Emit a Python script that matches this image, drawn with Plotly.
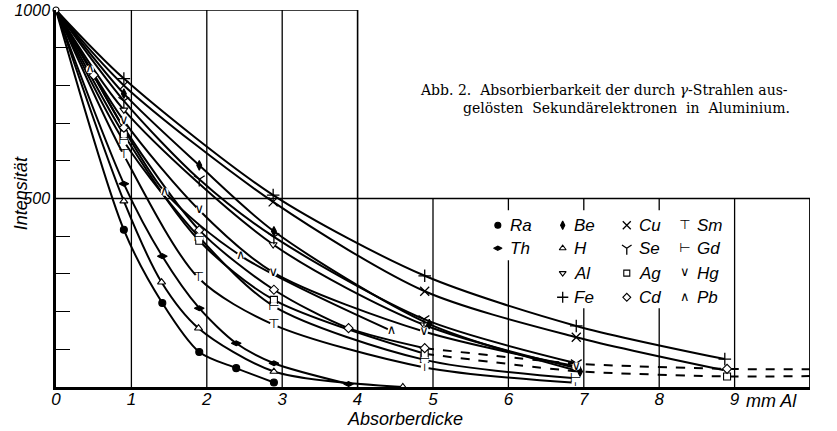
import plotly.graph_objects as go

# ---------------- data ----------------
ra_x = [0, 0.90, 1.41, 1.90, 2.39, 2.89]
ra_y = [1000, 417, 223, 93, 50, 12]
th_x = [0, 0.90, 1.41, 1.90, 2.39, 2.89, 3.88]
th_y = [1000, 539, 347, 209, 116, 63, 8]
h_x = [0, 0.90, 1.40, 1.89, 2.89, 4.60]
h_y = [1000, 493, 278, 156, 41, 0]
be_x = [0, 0.90, 1.90, 2.89, 4.95, 6.95]
be_y = [1000, 778, 588, 413, 167, 41]
al_x = [0, 0.90, 2.88, 4.88, 6.90]
al_y = [1000, 735, 378, 165, 50]
fe_x = [0, 0.90, 2.88, 4.89, 6.90, 8.87]
fe_y = [1000, 818, 509, 295, 162, 74]
cu_x = [0, 0.90, 2.88, 4.89, 6.90, 8.85]
cu_y = [1000, 800, 491, 254, 132, 45]
se_x = [0, 0.90, 1.90, 2.89, 4.88, 6.90]
se_y = [1000, 759, 551, 398, 180, 63]
ag_x = [0, 0.90, 1.90, 2.89, 4.89]
ag_y = [1000, 670, 388, 231, 88]
ag_tail_x = [4.89, 6.90, 8.90, 10.0]
ag_tail_y = [88, 42, 28, 29]
cd_x = [0, 0.50, 0.90, 1.90, 2.89, 3.88, 4.89]
cd_y = [1000, 827, 688, 416, 258, 156, 103]
cd_tail_x = [4.89, 6.90, 8.90, 10.0]
cd_tail_y = [103, 62, 48, 47]
sm_x = [0, 0.90, 1.89, 2.89, 4.89, 6.89]
sm_y = [1000, 615, 289, 165, 52, 11]
gd_x = [0, 0.90, 1.90, 2.89, 4.89, 6.89]
gd_y = [1000, 652, 397, 214, 72, 23]
hg_x = [0, 0.90, 1.90, 2.88, 4.88, 6.90]
hg_y = [1000, 706, 469, 304, 147, 55]
pb_x = [0, 0.45, 1.44, 2.45, 4.45]
pb_y = [1000, 843, 518, 348, 149]

x_ticks = [0, 1, 2, 3, 4, 5, 6, 7, 8, 9]
y_ticks = [100, 200, 300, 400, 500, 600, 700, 800, 900, 1000]
y_ticktext = ["", "", "", "", "500", "", "", "", "", "1000"]

# ---------------- styling ----------------
INK = "#000000"
SANS = "Liberation Sans Narrow, Liberation Sans, sans-serif"
LAB_FONT = dict(family=SANS, size=17, color=INK, style="italic")
GLYPH_FONT = dict(family="DejaVu Sans", size=13, color=INK)
CAP_FONT = dict(family="DejaVu Serif", size=14, color=INK)

# name, x, y, kind, symbol/glyph, fill, open_end, tail, legend(col,row)
series = [
    ("Ra", ra_x, ra_y, "m", "circle", INK, False, None, (0, 0)),
    ("Th", th_x, th_y, "m", "diamond-wide", INK, False, None, (0, 1)),
    ("Be", be_x, be_y, "m", "diamond-tall", INK, False, None, (1, 0)),
    ("H", h_x, h_y, "m", "triangle-up", "white", False, None, (1, 1)),
    ("Al", al_x, al_y, "m", "triangle-down", "white", False, None, (1, 2)),
    ("Fe", fe_x, fe_y, "m", "cross-thin", INK, False, None, (1, 3)),
    ("Cu", cu_x, cu_y, "m", "x-thin", INK, True, None, (2, 0)),
    ("Se", se_x, se_y, "m", "y-down", INK, False, None, (2, 1)),
    ("Ag", ag_x, ag_y, "m", "square", "white", False, (ag_tail_x, ag_tail_y), (2, 2)),
    ("Cd", cd_x, cd_y, "m", "diamond", "white", False, (cd_tail_x, cd_tail_y), (2, 3)),
    ("Sm", sm_x, sm_y, "t", "\u22a4", None, False, None, (3, 0)),
    ("Gd", gd_x, gd_y, "t", "\u22a2", None, False, None, (3, 1)),
    ("Hg", hg_x, hg_y, "t", "\u2228", None, False, None, (3, 2)),
    ("Pb", pb_x, pb_y, "t", "\u2227", None, False, None, (3, 3)),
]

# legend layout (data coordinates of the legend block)
leg_mark_x = [5.86, 6.72, 7.57, 8.34]
leg_text_dx = 0.13
leg_row_y = [429, 368, 302, 238]

fig = go.Figure()


def add_marks(xs, ys, kind, sym, fill, size=7):
    if kind == "m":
        line_sym = sym.endswith("-thin") or sym.startswith("y-")
        fig.add_trace(go.Scatter(
            x=xs, y=ys, mode="markers", showlegend=False, hoverinfo="skip",
            cliponaxis=False,
            marker=dict(symbol=sym, size=size + (2 if line_sym else 0),
                        color=fill,
                        line=dict(color=INK, width=1.3 if line_sym else 1.1)),
        ))
    else:
        fig.add_trace(go.Scatter(
            x=xs, y=ys, mode="markers+text", showlegend=False, hoverinfo="skip",
            cliponaxis=False,
            text=[sym] * len(xs), textposition="middle center",
            textfont=GLYPH_FONT,
            marker=dict(symbol="circle", size=8, color="white",
                        line=dict(width=0)),
        ))


for name, xs, ys, kind, sym, fill, open_end, tail, _ in series:
    fig.add_trace(go.Scatter(
        x=xs, y=ys, mode="lines", showlegend=False, hoverinfo="skip",
        line=dict(color=INK, width=2, shape="spline", smoothing=0.8),
    ))
    if tail is not None:
        fig.add_trace(go.Scatter(
            x=tail[0], y=tail[1], mode="lines", showlegend=False,
            hoverinfo="skip", cliponaxis=False,
            line=dict(color=INK, width=2, dash="dash", shape="spline",
                      smoothing=0.6),
        ))

for name, xs, ys, kind, sym, fill, open_end, tail, _ in series:
    mx = xs[1:-1] if open_end else xs[1:]
    my = ys[1:-1] if open_end else ys[1:]
    if tail is not None:
        mx = list(mx) + [tail[0][2]]
        my = list(my) + [tail[1][2]]
    add_marks(mx, my, kind, sym, fill)

# origin hub
fig.add_trace(go.Scatter(x=[0], y=[1000], mode="markers", showlegend=False,
                         cliponaxis=False, hoverinfo="skip",
                         marker=dict(symbol="circle", size=6, color="white",
                                     line=dict(color=INK, width=1.2))))

# legend (manual, four columns)
annotations = []
for name, xs, ys, kind, sym, fill, open_end, tail, (c, r) in series:
    add_marks([leg_mark_x[c]], [leg_row_y[r]], kind, sym, fill, size=6)
    annotations.append(dict(x=leg_mark_x[c] + leg_text_dx, y=leg_row_y[r],
                            xref="x", yref="y", text=name, showarrow=False,
                            xanchor="left", yanchor="middle", font=LAB_FONT))

# frame / grid shapes
shapes = []
GW = 1.3
for xv in [1, 2, 3]:
    shapes.append(dict(type="line", x0=xv, x1=xv, y0=0, y1=1000,
                       line=dict(color=INK, width=GW), layer="below"))
shapes.append(dict(type="line", x0=4, x1=4, y0=0, y1=1000,
                   line=dict(color=INK, width=1.6), layer="below"))
for xv in [5, 6, 7, 8, 9]:
    shapes.append(dict(type="line", x0=xv, x1=xv, y0=0, y1=500,
                       line=dict(color=INK, width=GW), layer="below"))
shapes.append(dict(type="line", x0=10, x1=10, y0=0, y1=500,
                   line=dict(color=INK, width=1.8), layer="below"))
shapes.append(dict(type="line", x0=0, x1=4, y0=1000, y1=1000,
                   line=dict(color=INK, width=1.6), layer="below"))
shapes.append(dict(type="line", x0=0, x1=10, y0=500, y1=500,
                   line=dict(color=INK, width=1.6), layer="below"))
# white legend backgrounds
shapes.append(dict(type="rect", x0=5.75, x1=6.35, y0=336, y1=469,
                   fillcolor="white", line=dict(width=0), layer="below"))
shapes.append(dict(type="rect", x0=6.6, x1=8.95, y0=209, y1=469,
                   fillcolor="white", line=dict(width=0), layer="below"))

# axis titles and caption
annotations += [
    dict(x=-0.046, y=0.515, xref="paper", yref="paper", text="Intensität",
         textangle=-90, showarrow=False, xanchor="center", yanchor="middle",
         font=dict(LAB_FONT, size=18)),
    dict(x=0.463, y=-0.086, xref="paper", yref="paper", text="Absorberdicke",
         showarrow=False, xanchor="center", yanchor="middle",
         font=dict(LAB_FONT, size=18)),
    dict(x=9.13, y=-0.037, xref="x", yref="paper", text="mm Al",
         xanchor="left", yanchor="middle", showarrow=False,
         font=dict(LAB_FONT, size=18)),
    dict(x=0.480, y=0.788, xref="paper", yref="paper", xanchor="left",
         yanchor="middle",
         text="Abb. 2.  Absorbierbarkeit der durch <i>γ</i>-Strahlen aus-",
         showarrow=False, font=CAP_FONT),
    dict(x=0.757, y=0.740, xref="paper", yref="paper", xanchor="center",
         yanchor="middle",
         text="gelösten \u00a0Sekundärelektronen \u00a0in \u00a0Aluminium.",
         showarrow=False, font=CAP_FONT),
]

fig.update_layout(
    width=837, height=431,
    margin=dict(l=56, r=27, t=10, b=44, autoexpand=False),
    paper_bgcolor="white", plot_bgcolor="white",
    shapes=shapes, annotations=annotations,
    xaxis=dict(range=[0, 10], showgrid=False, zeroline=False, showline=True,
               linewidth=2.5, linecolor=INK, tickvals=x_ticks,
               ticktext=[str(v) for v in x_ticks], ticks="",
               ticklabelstandoff=-5,
               tickfont=dict(LAB_FONT, size=17), fixedrange=True,
               automargin=False),
    yaxis=dict(range=[0, 1000], showgrid=False, zeroline=False, showline=True,
               linewidth=2.5, linecolor=INK, tickvals=y_ticks,
               ticktext=y_ticktext, ticks="inside", ticklen=14, tickwidth=1.3,
               tickcolor=INK, tickfont=dict(LAB_FONT, size=16),
               ticklabeloverflow="allow", fixedrange=True, automargin=False),
)

# remove the default page margin so the figure fills the window exactly
fig.write_html("out.html",
               config={"displayModeBar": False},
               post_script="document.body.style.margin='0';"
                           "document.body.style.overflow='hidden';")
